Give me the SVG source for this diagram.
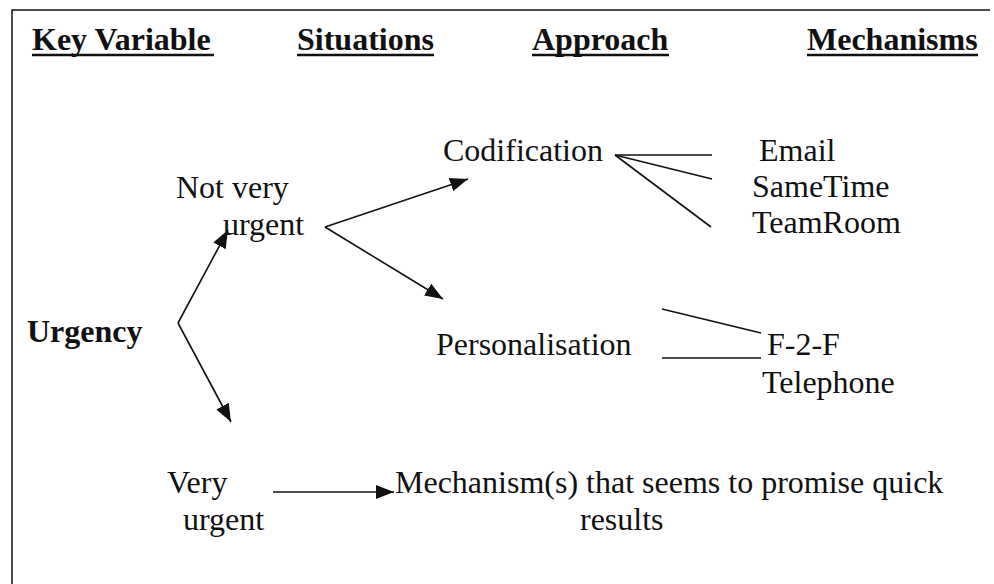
<svg xmlns="http://www.w3.org/2000/svg" width="994" height="584" viewBox="0 0 994 584">
  <style>
    .t { font-family: "Liberation Serif", "Times New Roman", serif; font-size: 32px; fill: #111; }
    .h { font-family: "Liberation Serif", "Times New Roman", serif; font-size: 32px; font-weight: bold; fill: #111; }
    .ln { stroke: #111; stroke-width: 1.6; fill: none; }
    .ul { stroke: #111; stroke-width: 2.5; }
    .frame { stroke: #111; stroke-width: 1.5; fill: none; }
  </style>
  <defs>
    <marker id="arrow" markerUnits="userSpaceOnUse" markerWidth="20" markerHeight="16" viewBox="0 0 20 16" refX="18" refY="8" orient="auto">
      <path d="M0,1 L18,8 L0,15 Z" fill="#111"/>
    </marker>
  </defs>

  <rect width="994" height="584" fill="#fff"/>

  <!-- page frame: top and left rules -->
  <path class="frame" d="M12,584 L12,10 L990,10"/>

  <!-- column headings -->
  <g id="headings">
    <text class="h" x="32" y="50">Key Variable</text>
    <line class="ul" x1="32" y1="55" x2="214" y2="55"/>
    <text class="h" x="297" y="50">Situations</text>
    <line class="ul" x1="297" y1="55" x2="434" y2="55"/>
    <text class="h" x="532" y="50">Approach</text>
    <line class="ul" x1="532" y1="55" x2="669" y2="55"/>
    <text class="h" x="807" y="50">Mechanisms</text>
    <line class="ul" x1="807" y1="55" x2="978" y2="55"/>
  </g>

  <g id="urgency">
    <text class="h" x="27" y="342">Urgency</text>
  </g>

  <g id="not-very-urgent">
    <text class="t" x="176" y="198">Not very</text>
    <text class="t" x="223" y="235">urgent</text>
  </g>

  <g id="very-urgent">
    <text class="t" x="167" y="493">Very</text>
    <text class="t" x="183" y="530">urgent</text>
  </g>

  <g id="codification">
    <text class="t" x="443" y="161">Codification</text>
  </g>

  <g id="personalisation">
    <text class="t" x="436" y="355">Personalisation</text>
  </g>

  <g id="quick-results">
    <text class="t" x="395" y="493">Mechanism(s) that seems to promise quick</text>
    <text class="t" x="580" y="530">results</text>
  </g>

  <g id="email"><text class="t" x="759" y="161">Email</text></g>
  <g id="sametime"><text class="t" x="752" y="197">SameTime</text></g>
  <g id="teamroom"><text class="t" x="752" y="233">TeamRoom</text></g>
  <g id="f2f"><text class="t" x="767" y="355">F-2-F</text></g>
  <g id="telephone"><text class="t" x="762" y="393">Telephone</text></g>

  <g id="connectors">
    <!-- urgency splits into the two situations -->
    <line class="ln" x1="178" y1="323" x2="228" y2="230" marker-end="url(#arrow)"/>
    <line class="ln" x1="178" y1="323" x2="231" y2="422" marker-end="url(#arrow)"/>
    <!-- not very urgent splits into the two approaches -->
    <line class="ln" x1="325" y1="227" x2="468" y2="179" marker-end="url(#arrow)"/>
    <line class="ln" x1="325" y1="227" x2="443" y2="299" marker-end="url(#arrow)"/>
    <!-- very urgent -->
    <line class="ln" x1="273" y1="492" x2="394" y2="492" marker-end="url(#arrow)"/>
    <!-- codification mechanisms -->
    <line class="ln" x1="615" y1="155" x2="712" y2="155"/>
    <line class="ln" x1="615" y1="155" x2="712" y2="179"/>
    <line class="ln" x1="615" y1="155" x2="711" y2="227"/>
    <!-- personalisation mechanisms -->
    <line class="ln" x1="662" y1="309" x2="761" y2="333"/>
    <line class="ln" x1="662" y1="358" x2="761" y2="358"/>
  </g>
</svg>
